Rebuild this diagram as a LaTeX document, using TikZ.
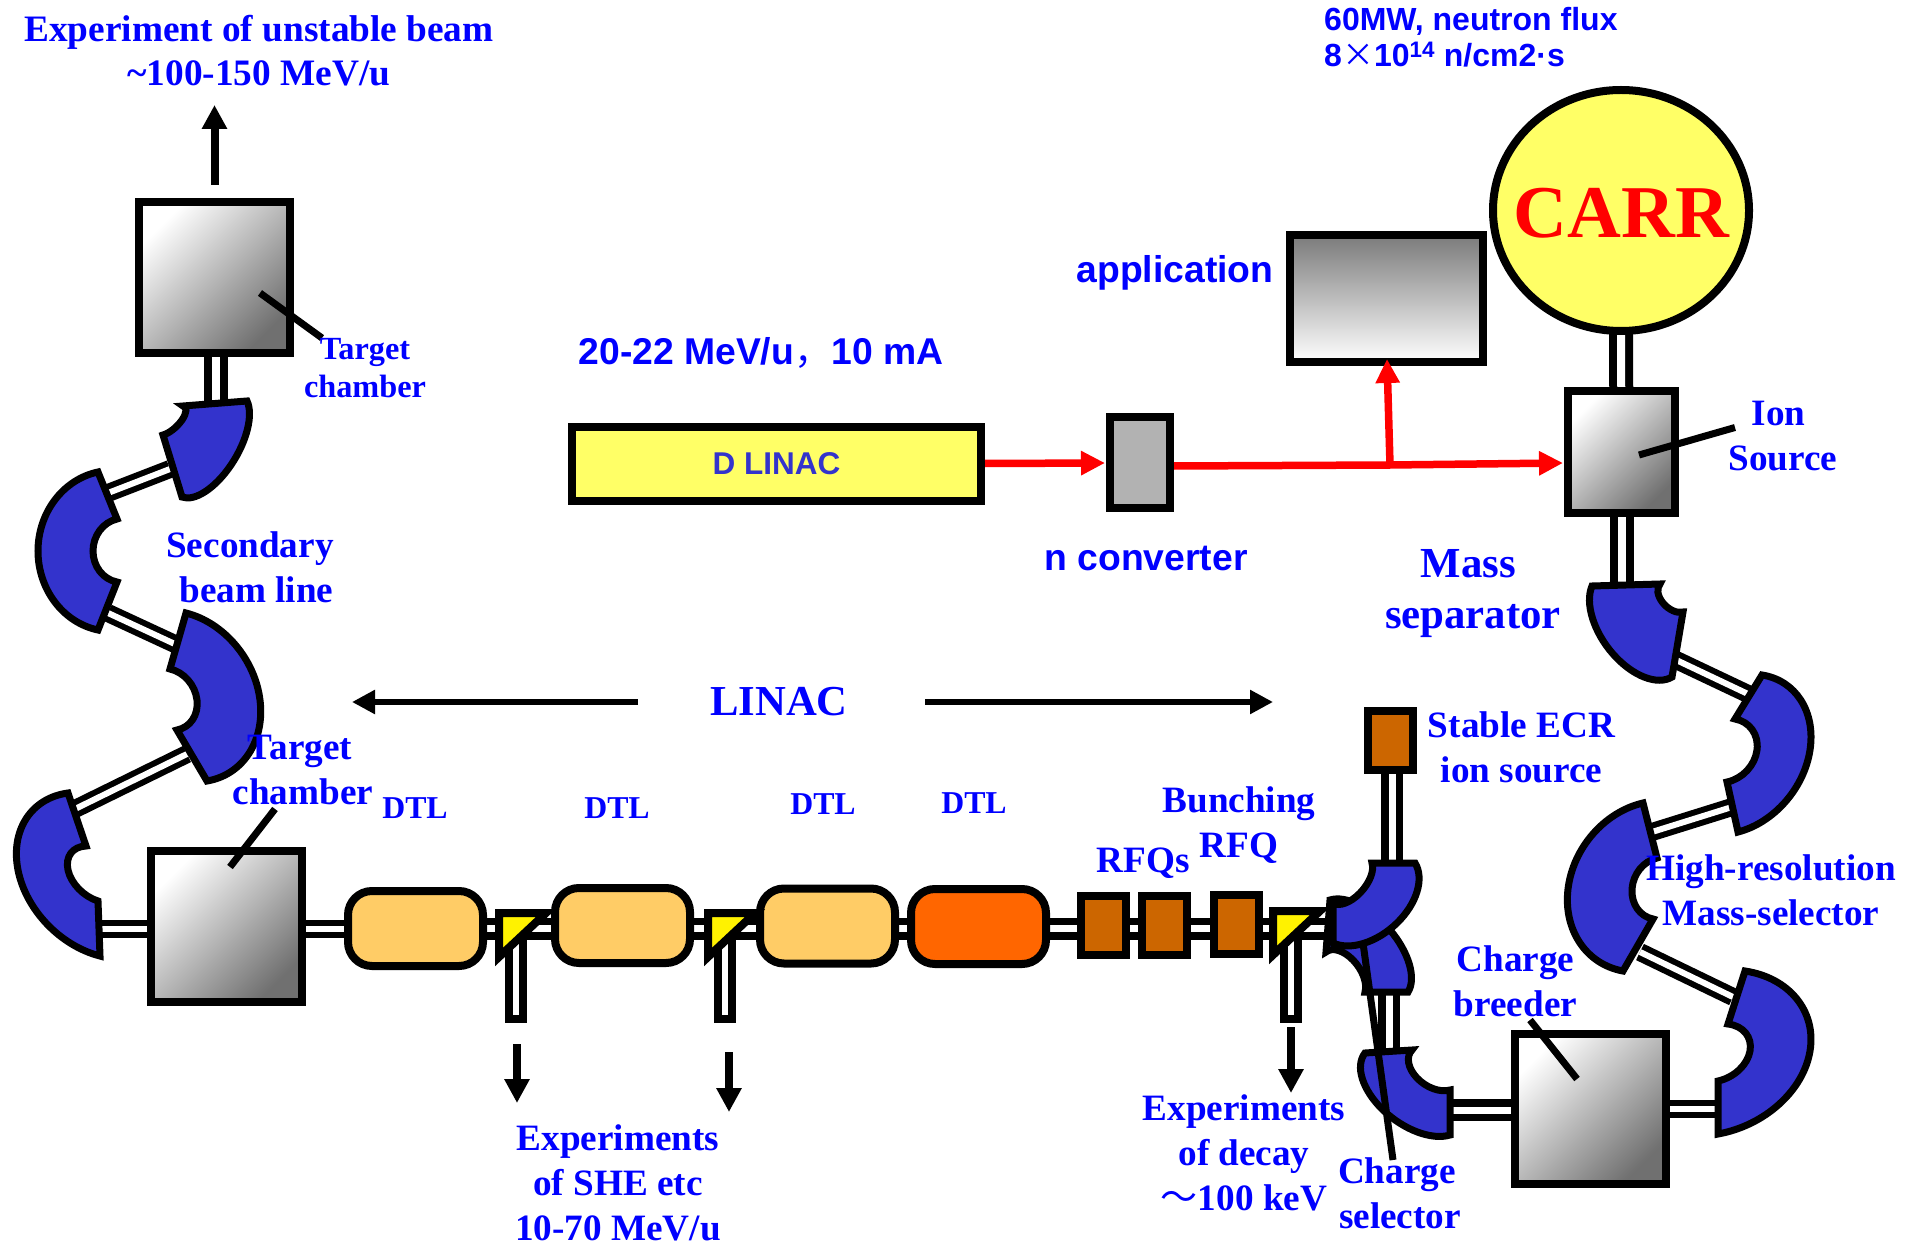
\documentclass[tikz,border=0pt]{standalone}
\usepackage{fontspec}
\setmainfont{Liberation Serif}
\setsansfont{Liberation Sans}
\newfontfamily\cjk{Noto Sans CJK SC}
\usetikzlibrary{calc,arrows.meta,shapes.geometric}
\pgfdeclarelayer{pipes}
\pgfsetlayers{pipes,main}
\definecolor{txtblue}{HTML}{0000FF}
\definecolor{magblue}{HTML}{3333CC}
\definecolor{dtllight}{HTML}{FFCC66}
\definecolor{dtldark}{HTML}{FF6600}
\definecolor{rfqbrown}{HTML}{CC6600}
\definecolor{paleyellow}{HTML}{FFFF66}
% curve from #1 through #2 to #3, tangent at #2 parallel to the chord
\newcommand{\curvethru}[3]{%
  .. controls ($0.58*(#2)+0.6636*(#1)-0.2436*(#3)$) and ($1*(#2)+0.2436*(#1)-0.2436*(#3)$) .. (#2)
  .. controls ($1*(#2)+0.2436*(#3)-0.2436*(#1)$) and ($0.58*(#2)+0.6636*(#3)-0.2436*(#1)$) .. (#3)}
\newcommand{\bendmag}[7]{%
  \coordinate (#1a) at #2; \coordinate (#1m) at #3; \coordinate (#1b) at #4;
  \coordinate (#1c) at #5; \coordinate (#1n) at #6; \coordinate (#1d) at #7;
  \draw[magnet] (#1a) \curvethru{#1a}{#1m}{#1b} -- (#1c) \curvethru{#1c}{#1n}{#1d} -- cycle;}
\tikzset{
  magnet/.style={draw=black,fill=magblue,line width=7pt,line join=miter},
  chamber/.style={rectangle,draw=black,line width=8pt,inner sep=0pt,minimum width=151pt,minimum height=151pt,
     shade,top color=white,middle color=black!24,bottom color=black!56,shading angle=45},
  dtlbox/.style={rectangle,rounded corners=24pt,draw=black,line width=8pt,inner sep=0pt,minimum width=135pt,minimum height=75pt,fill=dtllight},
  rfqbox/.style={rectangle,draw=black,line width=8pt,inner sep=0pt,minimum width=45pt,minimum height=59pt,fill=rfqbrown},
  pipe/.style={draw=black,line width=7.5pt,double=white,double distance=7pt},
  thinpipe/.style={draw=black,line width=6pt,double=white,double distance=6pt},
  widepipe/.style={draw=black,line width=8pt,double=white,double distance=8pt},
  stub/.style={draw=black,fill=white,line width=8pt},
  bender/.style={draw=black,fill=yellow,line width=8pt,line join=miter},
  leader/.style={draw=black,line width=7pt},
  blackarrow/.style={draw=black,line width=8pt,-{Triangle[length=24pt,width=24pt]}},
  linacarrow/.style={draw=black,line width=5.5pt,-{Triangle[length=23pt,width=23pt]}},
  redarrow/.style={draw=red,line width=7.5pt,-{Triangle[length=24pt,width=23pt]}},
  serifbold/.style={text=txtblue,font=\rmfamily\bfseries\fontsize{37.2}{45}\selectfont,align=center,inner sep=0pt},
  sansbold/.style={text=txtblue,font=\sffamily\bfseries\fontsize{37.3}{40}\selectfont,inner sep=0pt},
}
\begin{document}
\begin{tikzpicture}[x=1pt,y=-1pt]
\useasboundingbox (0,0) rectangle (1914,1246);
\coordinate (beam) at (0,928.5);

% --- boxes
\node[chamber] (tcTop) at (214.5,277.5) {};
\node[chamber] (tcLow) at (226.5,926) {};
\node[chamber,minimum height=150pt] (breeder) at (1590.5,1109) {};
\node[chamber,minimum width=107pt,minimum height=121pt] (ion) at (1621.5,452) {};
\node[ellipse,draw=black,fill=paleyellow,line width=8pt,inner sep=0pt,minimum width=256pt,minimum height=241pt] (carr) at (1621,210.5) {};
\node[rectangle,draw=black,line width=8pt,inner sep=0pt,minimum width=193pt,minimum height=127pt,shade,top color=black!52,bottom color=white] (app) at (1386.5,298.5) {};
\node[rectangle,draw=black,fill=paleyellow,line width=8pt,inner sep=0pt,minimum width=409pt,minimum height=74pt,
      text=magblue,font=\sffamily\bfseries\fontsize{31.5}{36}\selectfont] (dlinac) at (776.5,463.5) {D LINAC};
\node[rectangle,draw=black,fill=black!30,line width=8pt,inner sep=0pt,minimum width=60pt,minimum height=91pt] (conv) at (1140,462.5) {};
\node[dtlbox] (dtlA) at (415.5,928.5) {};
\node[dtlbox] (dtlB) at (622.5,925.5) {};
\node[dtlbox] (dtlC) at (827.5,926) {};
\node[dtlbox,fill=dtldark] (dtlD) at (978.5,926.5) {};
\node[rfqbox] (rfqA) at (1103.75,925.5) {};
\node[rfqbox] (rfqB) at (1164.25,925.5) {};
\node[rfqbox] (rfqC) at (1236,924.5) {};
\node[rfqbox] (ecr) at (1390.5,740.5) {};

% --- deflector stubs and triangles
\coordinate (stubAt) at (509,930); \coordinate (stubAb) at (523,1019);
\coordinate (stubBt) at (718,930); \coordinate (stubBb) at (732,1019);
\coordinate (stubCt) at (1284,930); \coordinate (stubCb) at (1298,1019);
\draw[stub] (stubAt) rectangle (stubAb);
\draw[stub] (stubBt) rectangle (stubBb);
\draw[stub] (stubCt) rectangle (stubCb);
\draw[bender] (499,913) -- (546,913) -- (499,957) -- cycle;
\draw[bender] (708,913) -- (755,913) -- (708,957) -- cycle;
\draw[bender] (1273,911) -- (1320,911) -- (1273,955) -- cycle;

% --- bending magnets
\bendmag{mA}{(247,401)}{(231,465)}{(182,497)}{(163,435)}{(182,420)}{(183,406)}
\bendmag{mB}{(98,472)}{(38,551)}{(98,630)}{(117,582)}{(93,551)}{(117,519)}
\bendmag{mC}{(186,613)}{(260,700)}{(207,781)}{(177,730)}{(197,700)}{(170,669)}
\bendmag{mD}{(68,793)}{(18,870)}{(100,956)}{(98,901)}{(68,870)}{(86,846)}
\bendmag{qB}{(1330,900)}{(1390,930)}{(1408,992)}{(1365,992)}{(1353,960)}{(1326,952)}
\bendmag{qA}{(1415,863)}{(1397,923)}{(1333,943)}{(1333,903)}{(1360,893)}{(1372,863)}
\bendmag{qC}{(1365,1053)}{(1383,1110)}{(1450,1135)}{(1450,1090)}{(1417,1078)}{(1412,1050)}
\bendmag{rA}{(1592,586)}{(1613,654)}{(1672,677)}{(1683,612)}{(1663,603)}{(1660,584)}
\bendmag{rB}{(1762,675)}{(1810,750)}{(1738,832)}{(1727,782)}{(1757,750)}{(1735,719)}
\bendmag{rC}{(1643,803)}{(1568,889)}{(1623,971)}{(1653,919)}{(1632,889)}{(1657,858)}
\bendmag{rD}{(1745,971)}{(1810,1051)}{(1718,1134)}{(1718,1081)}{(1750,1051)}{(1728,1024)}

% --- port coordinates for the beam pipes
\coordinate (p1a) at (216,357);  \coordinate (p1b) at (216,402);
\coordinate (p2a) at (170,469);  \coordinate (p2b) at (108,493);
\coordinate (p3a) at (108,613);  \coordinate (p3b) at (177,645);
\coordinate (p4a) at (187,754);  \coordinate (p4b) at (75,809);
\coordinate (p5a) at (96,928.5);
\coordinate (p6a) at (1621.5,330);
\coordinate (p7a) at (1622,512); \coordinate (p7b) at (1622,590);
\coordinate (p8a) at (1672,658); \coordinate (p8b) at (1748,694);
\coordinate (p9a) at (1732,807); \coordinate (p9b) at (1652,832);
\coordinate (p10a) at (1640,952); \coordinate (p10b) at (1733,997);
\coordinate (p11a) at (1720,1109);
\coordinate (p12a) at (1389,990); \coordinate (p12b) at (1389,1056);
\coordinate (p13a) at (1448,1110);
\coordinate (p14a) at (1392,770); \coordinate (p14b) at (1392,866);
\coordinate (p15a) at (1335,928.5);

\begin{pgfonlayer}{pipes}
  \draw[widepipe] (p1a) -- (p1b);
  \draw[thinpipe] (p2a) -- (p2b);
  \draw[thinpipe] (p3a) -- (p3b);
  \draw[thinpipe] (p4a) -- (p4b);
  \draw[thinpipe] (p5a) -- (tcLow.center |- p5a);
  \draw[thinpipe] (tcLow.center |- beam) -- (dtlA.center |- beam);
  \draw[pipe] (dtlA.center |- beam) -- (dtlB.center |- beam);
  \draw[pipe] (dtlB.center |- beam) -- (dtlC.center |- beam);
  \draw[pipe] (dtlC.center |- beam) -- (dtlD.center |- beam);
  \draw[pipe] (dtlD.center |- beam) -- (rfqA.center |- beam);
  \draw[pipe] (rfqA.center |- beam) -- (rfqB.center |- beam);
  \draw[pipe] (rfqB.center |- beam) -- (rfqC.center |- beam);
  \draw[pipe] (rfqC.center |- beam) -- (p15a);
  \draw[widepipe] (carr.center |- p6a) -- (ion.center);
  \draw[widepipe] (p7a) -- (p7b);
  \draw[thinpipe] (p8a) -- (p8b);
  \draw[thinpipe] (p9a) -- (p9b);
  \draw[thinpipe] (p10a) -- (p10b);
  \draw[thinpipe] (breeder.center) -- (p11a);
  \draw[pipe] (p12a) -- (p12b);
  \draw[pipe] (p13a) -- (breeder.center |- p13a);
  \draw[pipe] (p14a) -- (p14b);
\end{pgfonlayer}

% --- leaders
\coordinate (l1a) at (260,293); \coordinate (l1b) at (322,338);
\coordinate (l2a) at (275,809); \coordinate (l2b) at (230,867);
\coordinate (l3a) at (1735,427.5); \coordinate (l3b) at (1639,455);
\coordinate (l4a) at (1530,1020); \coordinate (l4b) at (1577,1079);
\coordinate (l5a) at (1363,943); \coordinate (l5b) at (1393,1160);
\draw[leader] (l1a) -- (l1b);
\draw[leader] (l2a) -- (l2b);
\draw[leader] (l3a) -- (l3b);
\draw[leader] (l4a) -- (l4b);
\draw[leader] (l5a) -- (l5b);

% --- black arrows
\coordinate (a1a) at (214.5,185); \coordinate (a1b) at (214.5,105);
\coordinate (a2a) at (517,1044);  \coordinate (a2b) at (517,1103);
\coordinate (a3a) at (729,1052);  \coordinate (a3b) at (729,1112);
\coordinate (a4a) at (1291,1027); \coordinate (a4b) at (1291,1093);
\coordinate (a5a) at (638,702);   \coordinate (a5b) at (352,702);
\coordinate (a6a) at (925,702);   \coordinate (a6b) at (1273,702);
\draw[blackarrow] (a1a) -- (a1b);
\draw[blackarrow] (a2a) -- (a2b);
\draw[blackarrow] (a3a) -- (a3b);
\draw[blackarrow] (a4a) -- (a4b);
\draw[linacarrow] (a5a) -- (a5b);
\draw[linacarrow] (a6a) -- (a6b);

% --- red beam
\coordinate (tee) at (1390,465);
\coordinate (convout) at (1174,466);
\coordinate (appin) at (1387,359);
\coordinate (ionin) at (1563,463);
\coordinate (convin) at (1105,463);
\draw[redarrow] (dlinac.east) -- (convin);
\draw[redarrow] (convout) -- (tee) -- (ionin);
\draw[redarrow] (tee) -- (appin);

% --- texts
\node[serifbold,font=\rmfamily\bfseries\fontsize{37.3}{44}\selectfont] (t1) at (259,51) {Experiment of unstable beam\\\textasciitilde100-150 MeV/u};
\node[sansbold,font=\sffamily\bfseries\fontsize{32}{36}\selectfont,align=left,anchor=west] (t2) at (1324,37) {60MW, neutron flux\\8{\cjk\mdseries\fontsize{32}{36}\selectfont ×}10\textsuperscript{14} n/cm2·s};
\node[text=red,font=\rmfamily\bfseries\fontsize{74.5}{80}\selectfont,inner sep=0pt] (t3) at (1621.5,213) {CARR};
\node[sansbold] (t4) at (1175,273) {application};
\node[sansbold] (t5) at (761,352.5) {20-22 MeV/u{\cjk\mdseries ，}10 mA};
\node[sansbold] (t6) at (1146,559) {n converter};
\node[serifbold,font=\rmfamily\bfseries\fontsize{32.3}{38}\selectfont] (t7) at (365,368) {Target\\chamber};
\node[serifbold] (t8) at (250,567) {Secondary\\\hspace*{13pt}beam line};
\node[serifbold] (t9) at (303,770) {Target\hspace*{6pt}\\chamber};
\node[serifbold] (t10) at (1783,436) {Ion\hspace*{9pt}\\Source};
\node[serifbold,font=\rmfamily\bfseries\fontsize{42.8}{51}\selectfont] (t11) at (1473,594) {Mass\hspace*{9pt}\\separator};
\node[serifbold,font=\rmfamily\bfseries\fontsize{42.7}{46}\selectfont] (t12) at (779,702) {LINAC};
\node[serifbold,font=\rmfamily\bfseries\fontsize{31.8}{36}\selectfont] (t13) at (415,808) {DTL};
\node[serifbold,font=\rmfamily\bfseries\fontsize{31.8}{36}\selectfont] (t14) at (617,808) {DTL};
\node[serifbold,font=\rmfamily\bfseries\fontsize{31.8}{36}\selectfont] (t15) at (823,804) {DTL};
\node[serifbold,font=\rmfamily\bfseries\fontsize{31.8}{36}\selectfont] (t16) at (974,803) {DTL};
\node[serifbold] (t17) at (1143,863.5) {RFQs};
\node[serifbold] (t18) at (1239,825) {Bunching\\RFQ};
\node[serifbold] (t19) at (1521.5,747) {Stable ECR\\ion source};
\node[serifbold] (t20) at (1771,890) {High-resolution\\Mass-selector};
\node[serifbold] (t21) at (1515.5,981.5) {Charge\\breeder};
\node[serifbold] (t22) at (618,1182.5) {Experiments\\of SHE etc\\10-70 MeV/u};
\node[serifbold] (t23) at (1244,1153) {Experiments\\of decay\\{\cjk\mdseries\fontsize{37}{45}\selectfont ～}100 keV};
\node[serifbold] (t24) at (1400,1193.5) {Charge\hspace*{6pt}\\selector};
\end{tikzpicture}
\end{document}
